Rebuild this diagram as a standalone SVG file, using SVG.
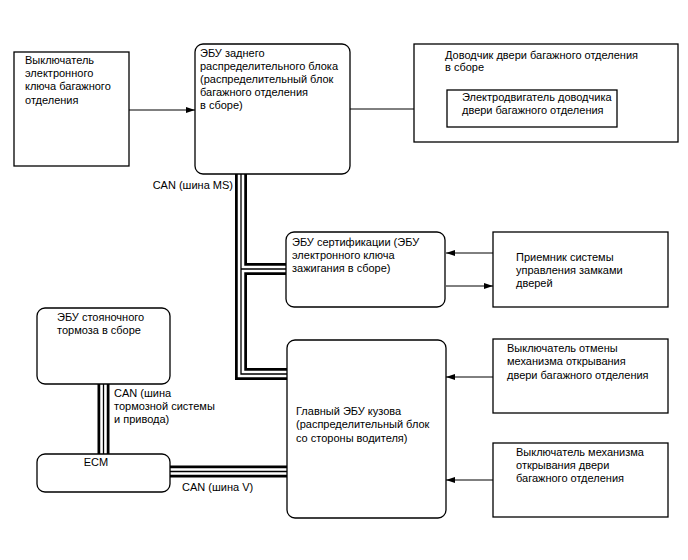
<svg xmlns="http://www.w3.org/2000/svg" width="688" height="560" viewBox="0 0 688 560">
<style>
text{font-family:"Liberation Sans",Arial,sans-serif;font-size:11px;fill:#000}
.box{fill:#fff;stroke:#000;stroke-width:1.3}
.rbox{fill:#fff;stroke:#000;stroke-width:1.3}
.ln{fill:none;stroke:#000;stroke-width:1}
.busO{fill:none;stroke:#000;stroke-width:12;stroke-linejoin:miter;stroke-linecap:butt}
.busW{fill:none;stroke:#fff;stroke-width:6.5;stroke-linejoin:miter;stroke-linecap:butt}
.busC{fill:none;stroke:#000;stroke-width:1.3;stroke-linejoin:miter;stroke-linecap:butt}
</style>
<defs>
<marker id="arr" markerWidth="9" markerHeight="6" refX="9" refY="3" orient="auto" markerUnits="userSpaceOnUse">
<path d="M0,0 L9,3 L0,6 Z" fill="#000"/>
</marker>
</defs>
<rect width="688" height="560" fill="#fff"/>

<g id="connectors">
<path class="busO" d="M241,174 V269 H286 M241,174 V374 H287 M103.5,384 V454 M170,471.5 H287"/>
<path class="busW" d="M241,174 V269 H286 M241,174 V374 H287 M103.5,384 V454 M170,471.5 H287"/>
<path class="busC" d="M241,174 V269 H286 M241,174 V374 H287 M103.5,384 V454 M170,471.5 H287"/>
<line class="ln" x1="129" y1="110" x2="195" y2="110" marker-end="url(#arr)"/>
<line class="ln" x1="350" y1="109" x2="447" y2="109" marker-end="url(#arr)"/>
<line class="ln" x1="493" y1="253" x2="446" y2="253" marker-end="url(#arr)"/>
<line class="ln" x1="446" y1="286" x2="493" y2="286" marker-end="url(#arr)"/>
<line class="ln" x1="493" y1="377" x2="446" y2="377" marker-end="url(#arr)"/>
<line class="ln" x1="493" y1="480" x2="446" y2="480" marker-end="url(#arr)"/>
<text x="233" y="189" text-anchor="end">CAN (шина MS)</text>
<text x="114" y="397">CAN (шина</text>
<text x="114" y="410">тормозной системы</text>
<text x="114" y="423">и привода)</text>
<text x="182" y="491">CAN (шина V)</text>
</g>

<g id="key-switch">
<rect class="box" x="14" y="52" width="115" height="114"/>
<text x="25" y="64">Выключатель</text>
<text x="25" y="77">электронного</text>
<text x="25" y="90">ключа багажного</text>
<text x="25" y="104">отделения</text>
</g>

<g id="rear-ecu">
<rect class="rbox" x="195" y="44" width="155" height="130" rx="8"/>
<text x="200" y="57">ЭБУ заднего</text>
<text x="200" y="70">распределительного блока</text>
<text x="200" y="83">(распределительный блок</text>
<text x="200" y="96">багажного отделения</text>
<text x="200" y="109">в сборе)</text>
</g>

<g id="closer">
<rect class="box" x="414" y="44" width="264" height="98"/>
<text x="445" y="59">Доводчик двери багажного отделения</text>
<text x="445" y="71">в сборе</text>
</g>

<g id="closer-motor">
<rect class="box" x="447" y="90" width="170" height="37"/>
<text x="462" y="101">Электродвигатель доводчика</text>
<text x="462" y="114">двери багажного отделения</text>
</g>

<g id="cert-ecu">
<rect class="rbox" x="286" y="232" width="159" height="75" rx="8"/>
<text x="292" y="246">ЭБУ сертификации (ЭБУ</text>
<text x="292" y="259">электронного ключа</text>
<text x="292" y="272">зажигания в сборе)</text>
</g>

<g id="receiver">
<rect class="box" x="493" y="232" width="175" height="75"/>
<text x="516" y="261">Приемник системы</text>
<text x="516" y="274">управления замками</text>
<text x="516" y="287">дверей</text>
</g>

<g id="parking-brake-ecu">
<rect class="rbox" x="37" y="308" width="133" height="76" rx="8"/>
<text x="57" y="321">ЭБУ стояночного</text>
<text x="57" y="334">тормоза в сборе</text>
</g>

<g id="ecm">
<rect class="rbox" x="37" y="454" width="133" height="38" rx="8"/>
<text x="96" y="466" text-anchor="middle">ECM</text>
</g>

<g id="main-body-ecu">
<rect class="rbox" x="287" y="340" width="159" height="178" rx="8"/>
<text x="296" y="415">Главный ЭБУ кузова</text>
<text x="296" y="428">(распределительный блок</text>
<text x="296" y="442">со стороны водителя)</text>
</g>

<g id="cancel-switch">
<rect class="box" x="493" y="339" width="175" height="74"/>
<text x="507" y="352">Выключатель отмены</text>
<text x="507" y="365">механизма открывания</text>
<text x="507" y="379">двери багажного отделения</text>
</g>

<g id="opener-switch">
<rect class="box" x="493" y="443" width="175" height="74"/>
<text x="516" y="456">Выключатель механизма</text>
<text x="516" y="469">открывания двери</text>
<text x="516" y="482">багажного отделения</text>
</g>
</svg>
